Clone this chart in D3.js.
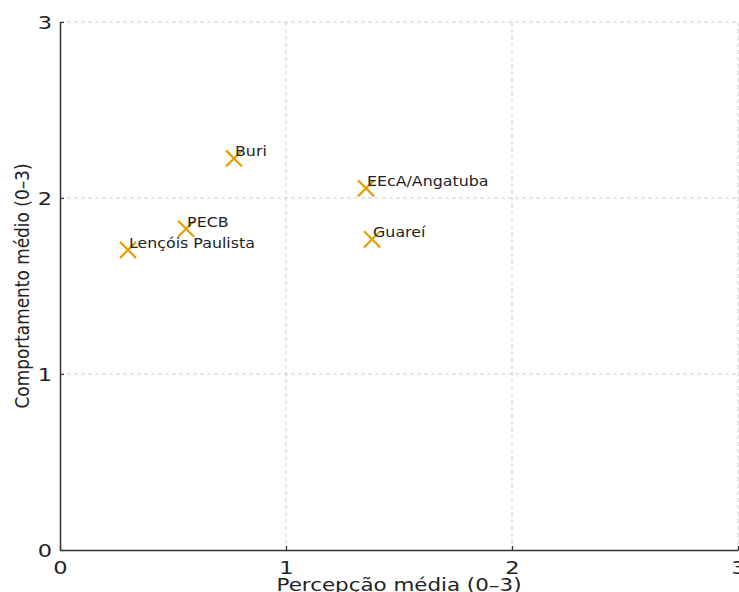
<!DOCTYPE html>
<html><head><meta charset="utf-8">
<script src="https://cdn.jsdelivr.net/npm/d3@7"></script>
<style>body{margin:0;background:#fff}svg{display:block}text{font-family:"DejaVu Sans",sans-serif;fill:#222}</style>
</head><body><svg id="c" width="739" height="592"></svg>
<script>
const sites = ["Buri","EEcA/Angatuba","PECB","Lençóis Paulista","Guareí"];
const perception = [0.77,1.354,0.558,0.301,1.381];
const behaviour = [2.225,2.055,1.825,1.705,1.765];
const ticks = [0,1,2,3];
const xTitle = "Percepção média (0–3)";
const yTitle = "Comportamento médio (0–3)";

const svg = d3.select("#c");
const m = {l:60, r:738, t:22, b:550};
const x = d3.scaleLinear().domain([0,3]).range([m.l,m.r]);
const y = d3.scaleLinear().domain([0,3]).range([m.b,m.t]);

function stretch(sel, f){
  sel.each(function(){ const L=this.getComputedTextLength(); d3.select(this).attr("textLength",L*f).attr("lengthAdjust","spacingAndGlyphs"); });
}

// grid
const g = svg.append("g");
g.selectAll(".gx").data(ticks.slice(1)).join("line")
  .attr("x1",d=>x(d)).attr("x2",d=>x(d)).attr("y1",m.t).attr("y2",m.b)
  .attr("stroke","#c8c8c8").attr("stroke-width",0.9).attr("stroke-dasharray","4,3");
g.selectAll(".gy").data(ticks.slice(1)).join("line")
  .attr("y1",d=>y(d)).attr("y2",d=>y(d)).attr("x1",m.l).attr("x2",m.r)
  .attr("stroke","#c8c8c8").attr("stroke-width",0.9).attr("stroke-dasharray","4,3");

// axes
const xa = svg.append("g").attr("transform",`translate(0,${m.b})`)
  .call(d3.axisBottom(x).tickValues(ticks).tickFormat(d3.format("d")).tickSizeInner(-4).tickSizeOuter(0).tickPadding(10));
const ya = svg.append("g").attr("transform",`translate(${m.l},0)`)
  .call(d3.axisLeft(y).tickValues(ticks).tickFormat(d3.format("d")).tickSizeInner(-4).tickSizeOuter(0).tickPadding(8));
[xa,ya].forEach(a=>{
  a.select(".domain").attr("stroke","#333").attr("stroke-width",1.5);
  a.selectAll(".tick line").attr("stroke","#333").attr("stroke-width",1.2);
  a.selectAll(".tick text").attr("font-size",18).attr("fill","#222").style("font-family","DejaVu Sans");
});
xa.selectAll(".tick text").attr("dy","0.78em");
ya.selectAll(".tick text").attr("dy","0.35em");
stretch(xa.selectAll(".tick text"),1.25);
stretch(ya.selectAll(".tick text"),1.25);

// titles
svg.append("text").attr("x",399).attr("y",591).attr("text-anchor","middle")
  .attr("font-size",17).text(xTitle).call(s=>s.attr("textLength",245).attr("lengthAdjust","spacingAndGlyphs"));
svg.append("text").attr("transform",`translate(29,${286}) rotate(-90)`).attr("text-anchor","middle")
  .attr("font-size",20).text(yTitle).call(s=>s.attr("textLength",245).attr("lengthAdjust","spacingAndGlyphs"));

// points
const pts = sites.map((s,i)=>({s, px:perception[i], py:behaviour[i]}));
const cross = d3.symbol().type(d3.symbolX).size(170);
svg.selectAll(".pt").data(pts).join("path")
  .attr("transform",d=>`translate(${x(d.px)},${y(d.py)})`)
  .attr("d",cross).attr("fill","none").attr("stroke","#E69F00").attr("stroke-width",2.2);
const lab = svg.selectAll(".lb").data(pts).join("text")
  .attr("x",d=>x(d.px)+1).attr("y",d=>y(d.py)-2)
  .attr("font-size",14).attr("fill","#333").text(d=>d.s);
stretch(lab,1.13);
</script></body></html>
